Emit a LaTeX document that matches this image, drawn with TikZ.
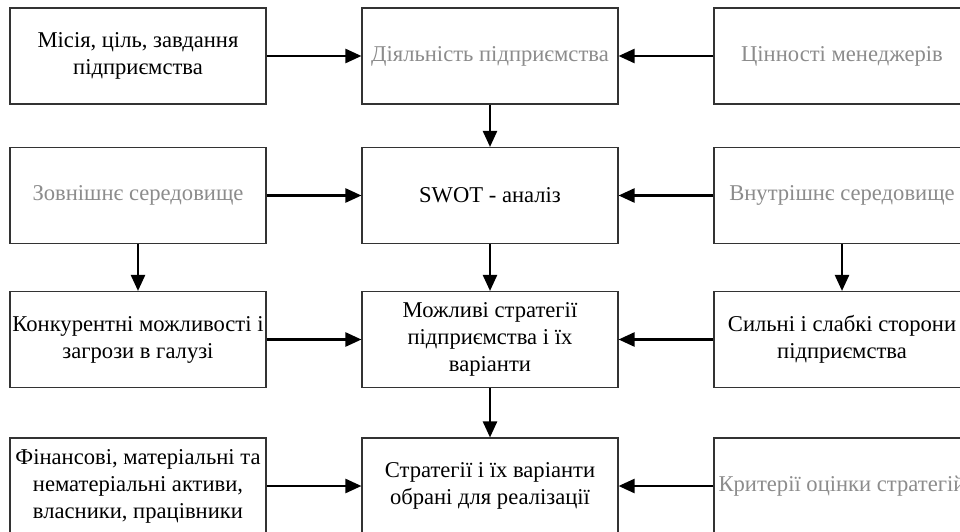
\documentclass[tikz,border=0pt]{standalone}
\usepackage{fontspec}
\setmainfont{Liberation Serif}
\usetikzlibrary{arrows.meta}
\begin{document}
\begin{tikzpicture}[x=1pt,y=-1pt,
  box/.style={draw=black!80, line width=1.1pt, minimum width=256pt, minimum height=96pt,
    inner sep=0pt, align=center, font=\fontsize{22.6}{27}\selectfont},
  dim/.style={text=black!45},
  arr/.style={line width=2.4pt, -{Triangle[length=16pt,width=14pt]}}]
\useasboundingbox (0,0) rectangle (960,532);
\fill[white] (0,0) rectangle (960,532);
% row 1
\node[box] (a1) at (138,56) {Місія, ціль, завдання\\підприємства};
\node[box,dim] (b1) at (490,56) {Діяльність підприємства};
\node[box,dim] (c1) at (842,56) {Цінності менеджерів};
% row 2
\node[box,dim] (a2) at (138,195.5) {Зовнішнє середовище};
\node[box] (b2) at (490,195.5) {SWOT - аналіз};
\node[box,dim] (c2) at (842,195.5) {Внутрішнє середовище};
% row 3
\node[box] (a3) at (138,339.5) {Конкурентні можливості і\\загрози в галузі};
\node[box] (b3) at (490,339.5) {Можливі стратегії\\підприємства і їх\\варіанти};
\node[box] (c3) at (842,339.5) {Сильні і слабкі сторони\\підприємства};
% row 4
\node[box] (a4) at (138,486) {Фінансові, матеріальні та\\нематеріальні активи,\\власники, працівники};
\node[box] (b4) at (490,486) {Стратегії і їх варіанти\\обрані для реалізації};
\node[box,dim] (c4) at (842,486) {Критерії оцінки стратегій};
% arrows
\draw[arr] (a1.east) -- (b1.west);
\draw[arr] (c1.west) -- (b1.east);
\draw[arr] (a2.east) -- (b2.west);
\draw[arr] (c2.west) -- (b2.east);
\draw[arr] (a3.east) -- (b3.west);
\draw[arr] (c3.west) -- (b3.east);
\draw[arr] (a4.east) -- (b4.west);
\draw[arr] (c4.west) -- (b4.east);
\draw[arr] (b1.south) -- (b2.north);
\draw[arr] (b2.south) -- (b3.north);
\draw[arr] (b3.south) -- (b4.north);
\draw[arr] (a2.south) -- (a3.north);
\draw[arr] (c2.south) -- (c3.north);
\end{tikzpicture}
\end{document}
